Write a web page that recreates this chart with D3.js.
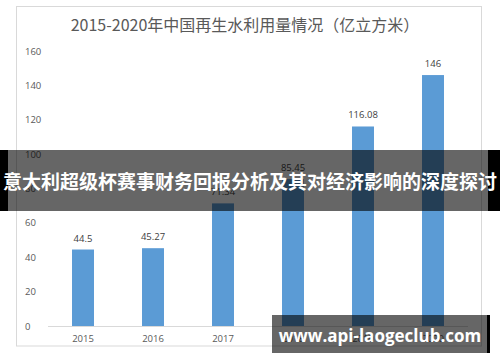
<!DOCTYPE html>
<html>
<head>
<meta charset="utf-8">
<style>
  body { margin: 0; background: #fff; }
  text { font-family: "Open Sans", "Noto Sans CJK SC", sans-serif; }
  .cjk { font-family: "Noto Sans CJK SC", sans-serif; }
</style>
</head>
<body>
<script src="https://d3js.org/d3.v7.min.js"></script>
<script>
  // data
  var years = ["2015", "2016", "2017", "2018", "2019", "2020"];
  var values = [44.5, 45.27, 71.34, 85.45, 116.08, 146];
  var valueLabels = ["44.5", "45.27", "71.34", "85.45", "116.08", "146"];
  var yTicks = [0, 20, 40, 60, 80, 100, 120, 140, 160];
  var title = "2015-2020年中国再生水利用量情况（亿立方米）";
  var bannerText = "意大利超级杯赛事财务回报分析及其对经济影响的深度探讨";
  var siteText = "www.api-laogeclub.com";

  var svg = d3.select("body").append("svg")
      .attr("width", 500)
      .attr("height", 362);

  // chart frame
  svg.append("rect")
      .attr("x", 16.5).attr("y", 6.5)
      .attr("width", 465).attr("height", 339.5)
      .attr("fill", "#fff")
      .attr("stroke", "#d9d9d9");

  svg.append("text")
      .attr("class", "cjk")
      .attr("x", 245).attr("y", 31)
      .attr("text-anchor", "middle")
      .attr("font-size", 16)
      .attr("fill", "#595959")
      .text(title);

  var x = d3.scaleBand()
      .domain(years)
      .range([48, 468])
      .paddingInner(0.686)
      .paddingOuter(0.343);

  var y = d3.scaleLinear()
      .domain([0, 160])
      .range([326, 51]);

  // y tick labels
  svg.append("g").selectAll("text")
      .data(yTicks)
      .enter().append("text")
      .attr("x", 25)
      .attr("y", function(d) { return y(d) + 3.5; })
      .attr("font-size", 9.5)
      .attr("fill", "#595959")
      .text(function(d) { return d; });

  svg.append("g").selectAll("rect")
      .data(values)
      .enter().append("rect")
      .attr("x", function(d, i) { return x(years[i]); })
      .attr("y", function(d) { return y(d); })
      .attr("width", x.bandwidth())
      .attr("height", function(d) { return y(0) - y(d); })
      .attr("fill", "#5b9bd5");

  // x axis line
  svg.append("line")
      .attr("x1", 48).attr("x2", 468)
      .attr("y1", 326.5).attr("y2", 326.5)
      .attr("stroke", "#d9d9d9");

  svg.append("g").selectAll("text")
      .data(years)
      .enter().append("text")
      .attr("x", function(d) { return x(d) + x.bandwidth() / 2; })
      .attr("y", 342)
      .attr("text-anchor", "middle")
      .attr("font-size", 9.5)
      .attr("fill", "#595959")
      .text(function(d) { return d; });

  svg.append("g").selectAll("text")
      .data(values)
      .enter().append("text")
      .attr("x", function(d, i) { return x(years[i]) + x.bandwidth() / 2; })
      .attr("y", function(d) { return y(d) - 8; })
      .attr("text-anchor", "middle")
      .attr("font-size", 9.5)
      .attr("fill", "#404040")
      .text(function(d, i) { return valueLabels[i]; });

  // overlay banner: black side strips, translucent middle
  svg.append("rect")
      .attr("x", 0).attr("y", 150)
      .attr("width", 8).attr("height", 61)
      .attr("fill", "#000");
  svg.append("rect")
      .attr("x", 488).attr("y", 150)
      .attr("width", 12).attr("height", 61)
      .attr("fill", "#000");
  svg.append("rect")
      .attr("x", 8).attr("y", 150)
      .attr("width", 480).attr("height", 61)
      .attr("fill", "rgba(0,0,0,0.6)");
  svg.append("text")
      .attr("class", "cjk")
      .attr("x", 250).attr("y", 189)
      .attr("text-anchor", "middle")
      .attr("font-size", 19)
      .attr("font-weight", "bold")
      .attr("fill", "#fff")
      .text(bannerText);

  // bottom-right site box
  svg.append("rect")
      .attr("x", 272).attr("y", 315)
      .attr("width", 218).attr("height", 38)
      .attr("fill", "rgba(0,0,0,0.6)");
  svg.append("rect")
      .attr("x", 487).attr("y", 315)
      .attr("width", 3).attr("height", 38)
      .attr("fill", "#000");
  svg.append("text")
      .attr("x", 380).attr("y", 342)
      .attr("text-anchor", "middle")
      .attr("font-size", 17)
      .attr("font-weight", "bold")
      .attr("fill", "#fff")
      .text(siteText);
</script>
</body>
</html>
